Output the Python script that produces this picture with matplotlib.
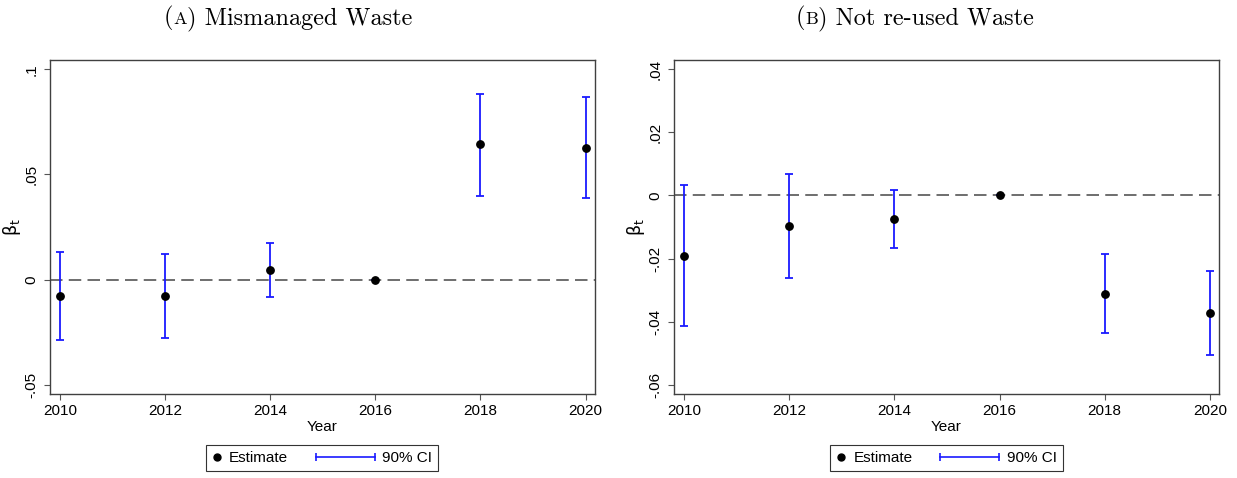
import matplotlib
matplotlib.use('Agg')
import matplotlib.pyplot as plt
from matplotlib.lines import Line2D
from matplotlib.legend_handler import HandlerLine2D

# データ
years = [2010, 2012, 2014, 2016, 2018, 2020]

# (A) Mismanaged Waste
est_a = [-0.0078, -0.0078, 0.0046, 0.0, 0.0643, 0.0627]
lo_a = [-0.0288, -0.0278, -0.0081, 0.0, 0.0400, 0.0386]
hi_a = [0.0133, 0.0122, 0.0176, 0.0, 0.0884, 0.0868]

# (B) Not re-used Waste
est_b = [-0.0192, -0.0097, -0.0075, 0.0, -0.0313, -0.0372]
lo_b = [-0.0415, -0.0261, -0.0165, 0.0, -0.0437, -0.0504]
hi_b = [0.0034, 0.0068, 0.0017, 0.0, -0.0186, -0.0238]

yticks_a = [-0.05, 0, 0.05, 0.1]
ylabels_a = ['-.05', '0', '.05', '.1']
yticks_b = [-0.06, -0.04, -0.02, 0, 0.02, 0.04]
ylabels_b = ['-.06', '-.04', '-.02', '0', '.02', '.04']

plt.rcParams['font.family'] = ['Liberation Sans', 'DejaVu Sans']
plt.rcParams['lines.scale_dashes'] = False

W, H = 1237, 478
fig = plt.figure(figsize=(W / 100, H / 100), dpi=100)
fig.set(facecolor='white')

BLUE = '#1a1aff'
EDGE = '#404040'


class CIHandler:
    # 横向きのCI（両端にキャップ）
    def legend_artist(self, legend, orig_handle, fontsize, handlebox):
        x0, y0 = handlebox.xdescent, handlebox.ydescent
        w, h = handlebox.width, handlebox.height
        xr = -x0 + w
        xl = xr - 3.86 * fontsize
        ln = Line2D([xl, xr], [-y0 + h / 2] * 2, color=BLUE, lw=1.2,
                    marker='|', markersize=6, markeredgewidth=1.2)
        handlebox.add_artist(ln)
        return ln


def panel(rect, est, lo, hi, yticks, ylabels, ylim):
    ax = fig.add_axes(rect)
    ax.axhline(0, color='#555555', lw=1.2, dashes=[9, 4.5], zorder=1)
    err = [[e - l for e, l in zip(est, lo)], [h - e for e, h in zip(est, hi)]]
    ax.errorbar(years, est, yerr=err, fmt='none', ecolor=BLUE, elinewidth=1.3,
                capsize=3, capthick=1.3, zorder=2)
    ax.plot(years, est, 'o', color='black', markersize=5.3, zorder=3)

    ax.set_xlim(2009.80, 2020.18)
    ax.set_ylim(*ylim)
    ax.set_xticks(years)
    ax.set_yticks(yticks)
    ax.set_yticklabels(ylabels, rotation=90, va='center')
    ax.tick_params(length=4.3, width=0.8, color='#555555', labelsize=11, pad=3)
    ax.tick_params(axis='y', pad=4)
    for s in ax.spines.values():
        s.set_color(EDGE)
        s.set_linewidth(1.0)
    ax.set_xlabel('Year', fontsize=11, labelpad=1)
    ax.set_ylabel(r'$\mathrm{\beta}_\mathrm{t}$', fontsize=12.5, labelpad=1)

    handles = [Line2D([], [], marker='o', color='black', ls='none', markersize=5),
               Line2D([], [], color=BLUE)]
    xc = rect[0] + rect[2] / 2
    leg = ax.legend(handles, ['Estimate', '90% CI'], ncol=2, loc='upper center',
                    bbox_to_anchor=(xc, 1 - 445 / H), bbox_transform=fig.transFigure,
                    borderaxespad=0, fontsize=11, handlelength=0.6, handletextpad=0.5,
                    columnspacing=5.06, borderpad=0.4, fancybox=False, framealpha=1,
                    handler_map={handles[1]: CIHandler(),
                                 handles[0]: HandlerLine2D(numpoints=1)})
    leg.get_frame().set_edgecolor('#333333')
    leg.get_frame().set_linewidth(0.8)
    return ax


ax1 = panel([49.7 / W, 1 - 394 / H, 545.3 / W, 334.3 / H],
            est_a, lo_a, hi_a, yticks_a, ylabels_a, (-0.0544, 0.1046))
ax2 = panel([673.7 / W, 1 - 394 / H, 545.6 / W, 334.3 / H],
            est_b, lo_b, hi_b, yticks_b, ylabels_b, (-0.0629, 0.0430))


# タイトル（スモールキャップス風）
def sc_title(xc_px, base_px, letter, rest):
    r = fig.canvas.get_renderer()
    parts = [('(', 17.5), (letter, 13), (') ' + rest, 17.5)]
    ts = [fig.text(0, 1 - base_px / H, s, fontsize=sz, family='cmr10',
                   va='baseline', ha='left') for s, sz in parts]
    ws = [t.get_window_extent(r).width for t in ts]
    x = xc_px - sum(ws) / 2
    for t, w in zip(ts, ws):
        t.set_x(x / W)
        x += w


sc_title(288, 24, 'A', 'Mismanaged Waste')
sc_title(915, 24, 'B', 'Not re-used Waste')

fig.savefig('out.png', dpi=100)
